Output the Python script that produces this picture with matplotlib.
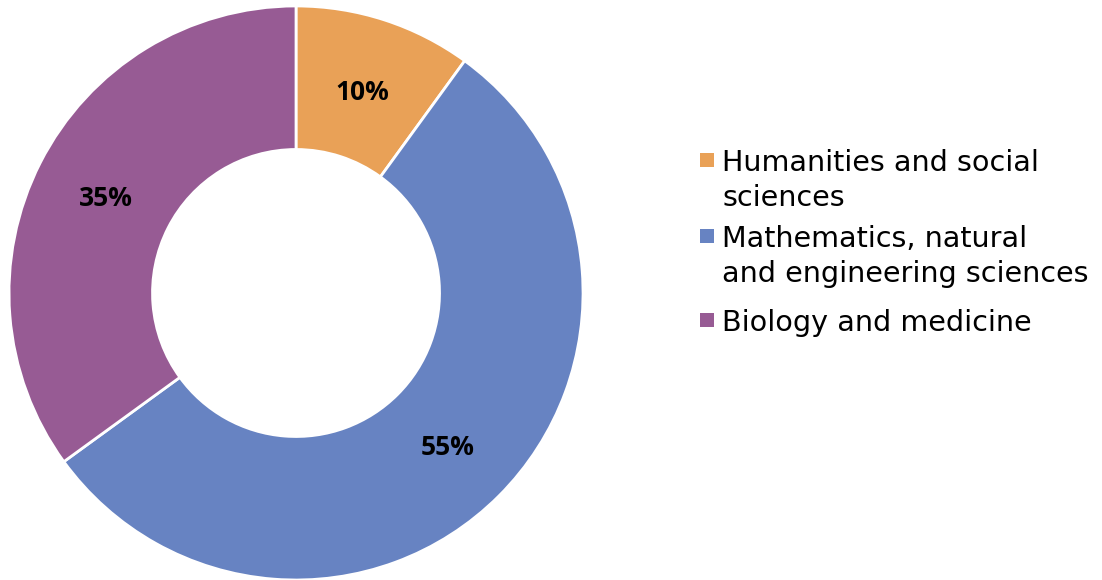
import matplotlib
matplotlib.use("Agg")
import matplotlib.pyplot as plt
from matplotlib.patches import Rectangle

# Data
categories = ["Humanities and social\nsciences",
              "Mathematics, natural\nand engineering sciences",
              "Biology and medicine"]
shares = [10, 55, 35]
colors = ["#E9A157", "#6783C2", "#975B94"]

W, H = 1102, 580
fig = plt.figure(figsize=(W / 100, H / 100), dpi=100)
# axes sized so the donut spans the left part of the figure
ax = fig.add_axes([0.00817, 0.0, 0.5209, 0.9897])

wedges, texts, autotexts = ax.pie(
    shares, colors=colors, startangle=90, counterclock=False,
    radius=1.0, autopct="%d%%", pctdistance=0.745,
    wedgeprops=dict(width=0.5, edgecolor="white", linewidth=2),
    textprops=dict(fontsize=19, fontweight="bold", family="Open Sans", color="black"),
)
for t in autotexts:
    t.set_y(t.get_position()[1] - 0.01)
ax.set_xlim(-1, 1)
ax.set_ylim(-1, 1)
ax.set_aspect("equal")
ax.axis("off")

# hand-placed legend: square marker on first line, wrapped lines below (pixel coords)
entry_tops = [153, 229, 313]
line_step = 35
for label, c, top in zip(categories, colors, entry_tops):
    fig.patches.append(Rectangle((700 / W, 1 - (top + 14) / H), 14 / W, 14 / H,
                                 transform=fig.transFigure, facecolor=c,
                                 edgecolor="none"))
    for i, line in enumerate(label.split("\n")):
        base = top + 18 + i * line_step
        fig.text(722 / W, 1 - base / H, line, family="DejaVu Sans", fontsize=20.6,
                 ha="left", va="baseline", color="black")

fig.savefig("out.png", dpi=100)
